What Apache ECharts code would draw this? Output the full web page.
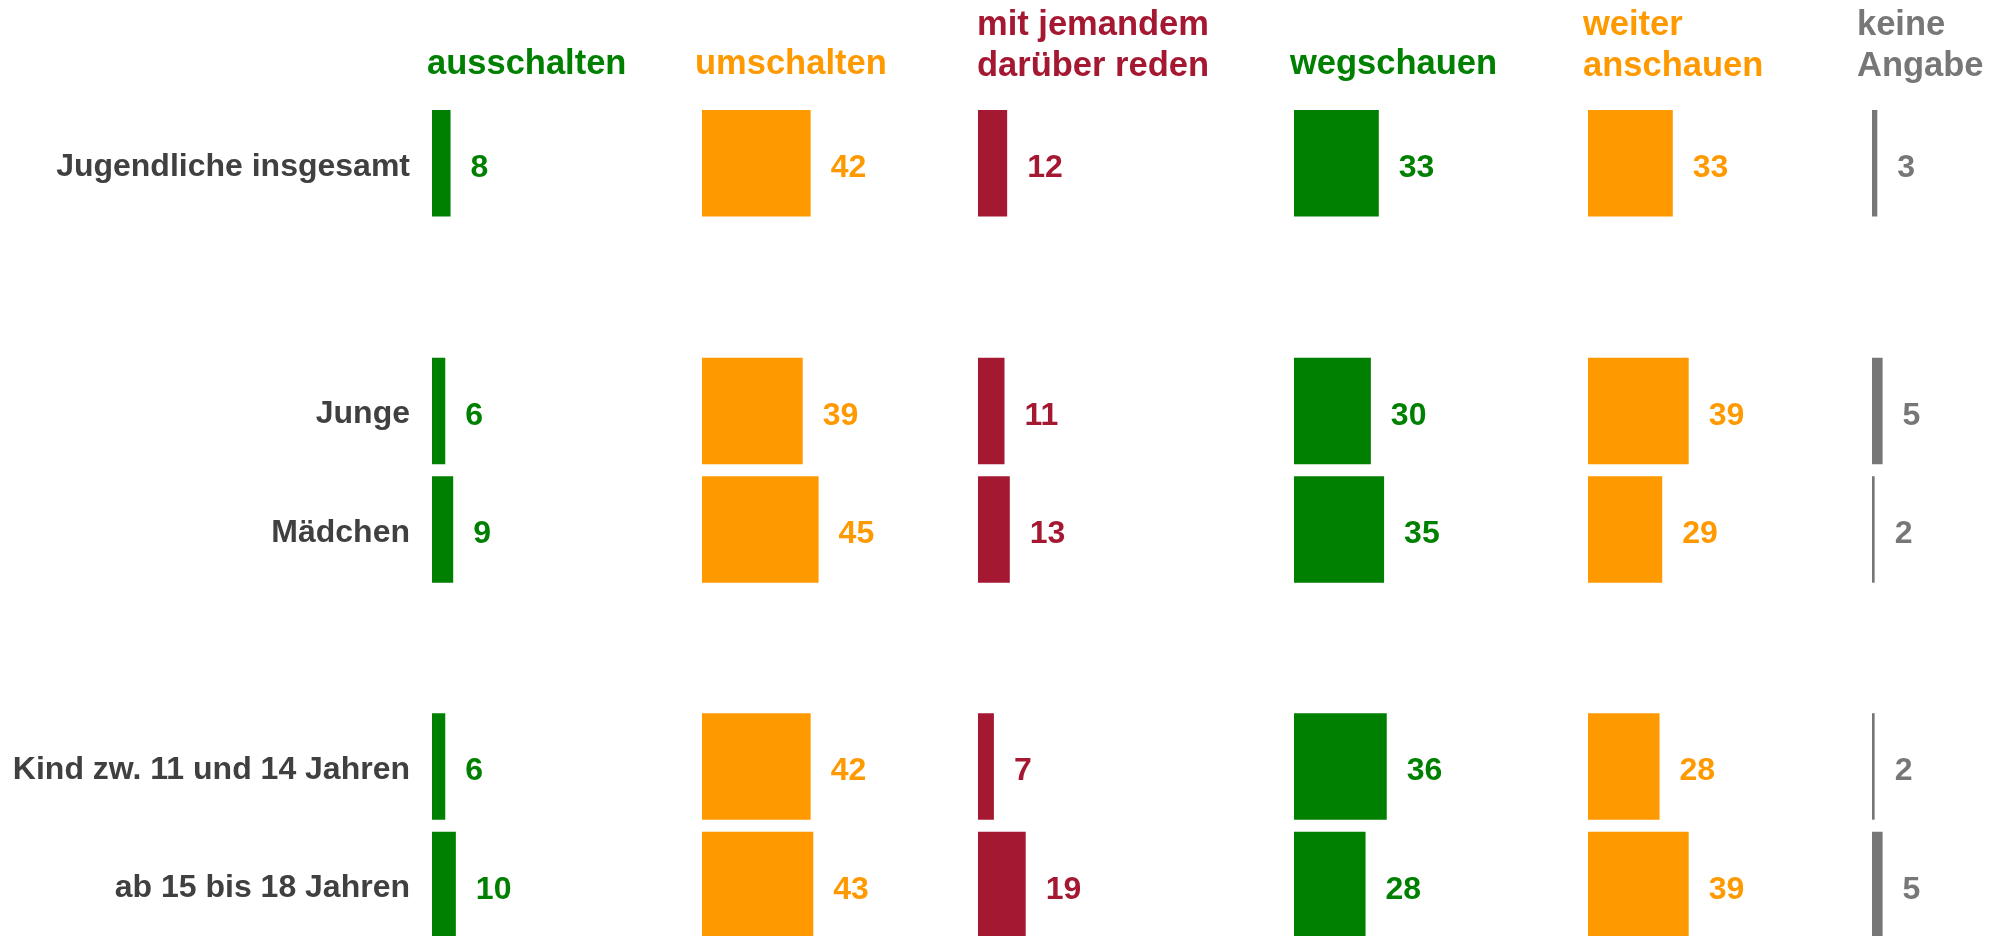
<!DOCTYPE html>
<html>
<head>
<meta charset="utf-8">
<title>Reaktion Jugendlicher</title>
<script src="https://cdn.jsdelivr.net/npm/echarts@6/dist/echarts.min.js"></script>
<style>
    html, body { margin: 0; padding: 0; background: #fff; }
    #my_chart { width: 1993px; height: 936px; }
</style>
</head>
<body>
<div id="my_chart"></div>
<script>
    // Spaltenköpfe
    var columns = ['ausschalten', 'umschalten', 'mit jemandem\ndarüber reden', 'wegschauen', 'weiter\nanschauen', 'keine\nAngabe'];
    var colors = ['#008000', '#ff9900', '#a51832', '#008000', '#ff9900', '#777777'];

    // Zeilen
    var topRows = ['Jugendliche insgesamt'];
    var bottomRows = ['Junge', 'Mädchen', '', 'Kind zw. 11 und 14 Jahren', 'ab 15 bis 18 Jahren'];

    // Werte je Zeile (Reihenfolge wie columns)
    var insgesamt = [8, 42, 12, 33, 33, 3];
    var junge = [6, 39, 11, 30, 39, 5];
    var maedchen = [9, 45, 13, 35, 29, 2];
    var kind = [6, 42, 7, 36, 28, 2];
    var ab15 = [10, 43, 19, 28, 39, 5];

    var colLeft = [432, 702, 978, 1294, 1588, 1872];
    var headLeft = [427, 695, 977, 1290, 1583, 1857];
    var font = '"Liberation Sans", Arial, sans-serif';

    var myChart = echarts.init(document.getElementById('my_chart'));

    var grid = [], xAxis = [], yAxis = [], series = [], title = [];

    columns.forEach(function (name, i) {
        var twoLines = name.indexOf('\n') >= 0;
        title.push({
            text: name,
            left: headLeft[i],
            top: twoLines ? 5 : 44,
            padding: 0,
            textStyle: {
                color: colors[i],
                fontSize: 34.5,
                fontWeight: 'bold',
                fontFamily: font,
                lineHeight: 41
            }
        });

        // oben: insgesamt, unten: Geschlecht / Alter (Raster reicht bis unter den Rand)
        [[104, 118.5, topRows, [insgesamt[i]]],
         [351.7, 592.5, bottomRows, [junge[i], maedchen[i], '-', kind[i], ab15[i]]]
        ].forEach(function (g) {
            var idx = grid.length;
            grid.push({ left: colLeft[i], top: g[0], width: 132.5, height: g[1], outerBoundsMode: 'none' });
            xAxis.push({ gridIndex: idx, type: 'value', min: 1, max: 51, show: false });
            yAxis.push({
                gridIndex: idx,
                type: 'category',
                inverse: true,
                data: g[2],
                axisLine: { show: false },
                axisTick: { show: false },
                splitLine: { show: false },
                axisLabel: {
                    show: i === 0,
                    margin: 22,
                    verticalAlign: 'top',
                    lineHeight: 7,
                    color: '#404040',
                    fontSize: 32,
                    fontWeight: 'bold',
                    fontFamily: font
                }
            });
            series.push({
                type: 'bar',
                xAxisIndex: idx,
                yAxisIndex: idx,
                data: g[3],
                barWidth: 106.5,
                itemStyle: { color: colors[i] },
                label: {
                    show: true,
                    position: 'right',
                    distance: 20,
                    offset: [0, 5],
                    color: colors[i],
                    fontSize: 32,
                    fontWeight: 'bold',
                    fontFamily: font
                },
                silent: true,
                animation: false
            });
        });
    });

    option = {
        backgroundColor: '#fff',
        animation: false,
        title: title,
        grid: grid,
        xAxis: xAxis,
        yAxis: yAxis,
        series: series
    };
    myChart.setOption(option);
</script>
</body>
</html>
